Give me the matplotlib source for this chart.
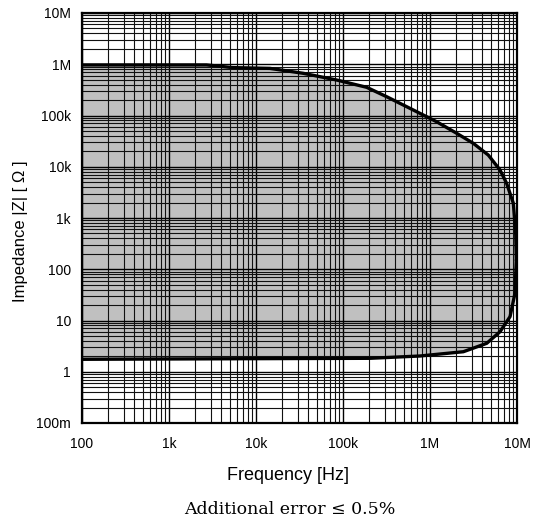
import numpy as np
import matplotlib
matplotlib.use("Agg")
import matplotlib.pyplot as plt
from matplotlib.ticker import LogLocator, NullFormatter, FixedLocator, FixedFormatter

# ---- data ----
upper_freq = [100, 2.7e3, 5.4e3, 14.5e3, 35e3, 84.5e3, 187e3, 317e3, 643e3,
              1.19e6, 2.03e6, 3.15e6, 4.68e6, 6.38e6, 7.6e6, 9.08e6, 9.66e6, 9.82e6]
upper_z = [0.97e6, 0.97e6, 0.86e6, 0.83e6, 0.665e6, 0.493e6, 0.355e6, 0.233e6, 0.128e6,
           75.7e3, 44.9e3, 28.6e3, 16.9e3, 8.65e3, 4.75e3, 1.94e3, 502, 151]
lower_freq = [100, 10e3, 204e3, 768e3, 2.42e6, 4.49e6, 6.38e6, 8.32e6, 9.48e6, 9.82e6]
lower_z = [1.75, 1.8, 1.83, 2.03, 2.46, 3.59, 6.04, 11.9, 34, 151]

x_ticks = [1e2, 1e3, 1e4, 1e5, 1e6, 1e7]
x_labels = ["100", "1k", "10k", "100k", "1M", "10M"]
y_ticks = [1e-1, 1e0, 1e1, 1e2, 1e3, 1e4, 1e5, 1e6, 1e7]
y_labels = ["100m", "1", "10", "100", "1k", "10k", "100k", "1M", "10M"]

# ---- figure ----
W, H = 539, 523
fig = plt.figure(figsize=(W / 100, H / 100), dpi=100)
ax = fig.add_axes([82 / W, 1 - 423 / H, 435 / W, 410 / H])
ax.set_xscale("log")
ax.set_yscale("log")
ax.set_xlim(1e2, 1e7)
ax.set_ylim(1e-1, 1e7)

poly_f = list(upper_freq) + list(lower_freq[::-1])
poly_z = list(upper_z) + list(lower_z[::-1])
ax.fill(poly_f, poly_z, color="#c0c0c0", lw=0, zorder=0.5)
ax.plot(upper_freq, upper_z, color="black", lw=2.4, zorder=3, solid_capstyle="round",
        solid_joinstyle="round")
ax.plot(lower_freq, lower_z, color="black", lw=2.4, zorder=3, solid_capstyle="round",
        solid_joinstyle="round")

for axis in (ax.xaxis, ax.yaxis):
    axis.set_minor_locator(LogLocator(base=10, subs=np.arange(2, 10), numticks=100))
    axis.set_minor_formatter(NullFormatter())
ax.xaxis.set_major_locator(FixedLocator(x_ticks))
ax.xaxis.set_major_formatter(FixedFormatter(x_labels))
ax.yaxis.set_major_locator(FixedLocator(y_ticks))
ax.yaxis.set_major_formatter(FixedFormatter(y_labels))

ax.grid(which="major", color="black", lw=1.0)
ax.grid(which="minor", color="#111111", lw=0.8)
ax.tick_params(which="both", length=0)
ax.tick_params(axis="y", pad=8, labelsize=10)
ax.tick_params(axis="x", pad=10, labelsize=10)
for lab in ax.get_xticklabels() + ax.get_yticklabels():
    lab.set_fontfamily("Liberation Sans")
for s in ax.spines.values():
    s.set_linewidth(1.6)
    s.set_color("black")
    s.set_zorder(4)

fig.text(288 / W, 1 - 476 / H, "Frequency [Hz]", ha="center", va="center",
         fontsize=13, family="Liberation Sans")
fig.text(21 / W, 1 - 231 / H, "Impedance |Z| [ Ω ]", ha="center", va="center",
         rotation=90, fontsize=12, family="Liberation Sans")
fig.text(290 / W, 1 - 510 / H, "Additional error ≤ 0.5%", ha="center", va="center",
         fontsize=12.5, family=["DejaVu Serif"])

fig.savefig("out.png", dpi=100)
